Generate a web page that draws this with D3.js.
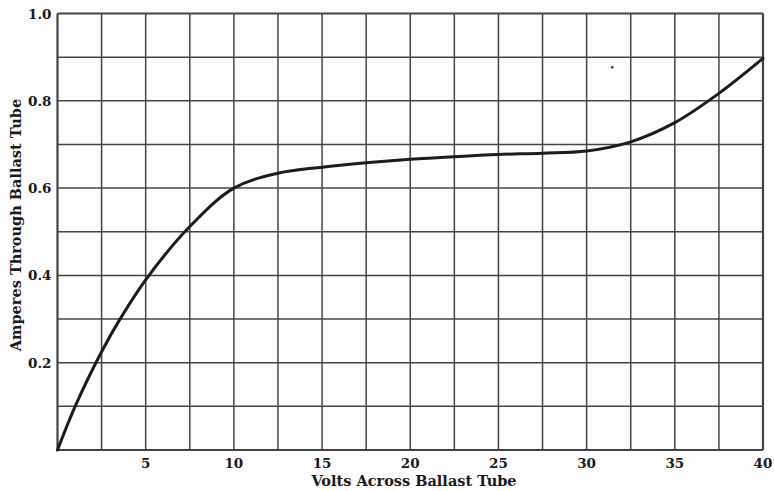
<!DOCTYPE html>
<html>
<head>
<meta charset="utf-8">
<script src="https://cdn.jsdelivr.net/npm/d3@7"></script>
<style>
  body { margin: 0; background: #fdfdfd; }
  svg { display: block; }
  .tick-label { font-family: "DejaVu Serif", serif; font-weight: bold; font-size: 13.5px; fill: #1a1a1a; }
  .axis-title { font-family: "DejaVu Serif", serif; font-weight: bold; font-size: 14.5px; fill: #1a1a1a; }
</style>
</head>
<body>
<svg id="chart" width="774" height="491"></svg>
<script>
// volts across the tube vs amperes through it
const volts = [0, 1, 2.5, 3.5, 5, 7.5, 10, 12.5, 15, 17.5, 20, 22.5, 25, 27.5, 30, 32.5, 35, 37.5, 40];
const amperes = [0, 0.10, 0.225, 0.297, 0.39, 0.512, 0.60, 0.634, 0.648, 0.658, 0.666, 0.672, 0.677, 0.680, 0.685, 0.706, 0.750, 0.817, 0.897];

const xGrid = [0, 2.5, 5, 7.5, 10, 12.5, 15, 17.5, 20, 22.5, 25, 27.5, 30, 32.5, 35, 37.5, 40];
const yGrid = [0, 0.1, 0.2, 0.3, 0.4, 0.5, 0.6, 0.7, 0.8, 0.9, 1.0];
const xTickLabels = [5, 10, 15, 20, 25, 30, 35, 40];
const yTickLabels = [0.2, 0.4, 0.6, 0.8, 1.0];

// small printing speck on the plate
const specks = [[31.45, 0.877]];

const margin = { top: 13.5, right: 11, bottom: 41, left: 57.5 };
const width = 774, height = 491;

const svg = d3.select('#chart');

const x = d3.scaleLinear().domain([0, 40]).range([margin.left, width - margin.right]);
const y = d3.scaleLinear().domain([0, 1]).range([height - margin.bottom, margin.top]);

// grid
svg.append('g')
  .selectAll('line')
  .data(xGrid)
  .join('line')
  .attr('x1', d => x(d)).attr('x2', d => x(d))
  .attr('y1', y(0)).attr('y2', y(1))
  .attr('stroke', '#444')
  .attr('stroke-width', d => (d === 0 || d === 40) ? 2.2 : 1.5);

svg.append('g')
  .selectAll('line')
  .data(yGrid)
  .join('line')
  .attr('x1', x(0)).attr('x2', x(40))
  .attr('y1', d => y(d)).attr('y2', d => y(d))
  .attr('stroke', '#444')
  .attr('stroke-width', d => (d === 0 || d === 1) ? 2.2 : 1.5);

// tick labels
svg.append('g')
  .selectAll('text')
  .data(xTickLabels)
  .join('text')
  .attr('class', 'tick-label')
  .attr('x', d => x(d))
  .attr('y', y(0) + 18)
  .attr('text-anchor', 'middle')
  .text(d => d);

svg.append('g')
  .selectAll('text')
  .data(yTickLabels)
  .join('text')
  .attr('class', 'tick-label')
  .attr('x', x(0) - 6)
  .attr('y', d => y(d) + 5)
  .attr('text-anchor', 'end')
  .text(d => d.toFixed(1));

// axis titles
svg.append('text')
  .attr('class', 'axis-title')
  .attr('x', 414)
  .attr('y', 486)
  .attr('text-anchor', 'middle')
  .text('Volts Across Ballast Tube');

svg.append('text')
  .attr('class', 'axis-title')
  .attr('transform', 'translate(21,225) rotate(-90)')
  .attr('text-anchor', 'middle')
  .text('Amperes Through Ballast Tube');

// curve
const line = d3.line()
  .x((d, i) => x(volts[i]))
  .y(d => y(d))
  .curve(d3.curveCatmullRom.alpha(0.5));

svg.append('path')
  .datum(amperes)
  .attr('d', line)
  .attr('fill', 'none')
  .attr('stroke', '#1c1c1c')
  .attr('stroke-width', 3)
  .attr('stroke-linecap', 'round');

svg.append('g')
  .selectAll('circle')
  .data(specks)
  .join('circle')
  .attr('cx', d => x(d[0]))
  .attr('cy', d => y(d[1]))
  .attr('r', 1.3)
  .attr('fill', '#333');
</script>
</body>
</html>
